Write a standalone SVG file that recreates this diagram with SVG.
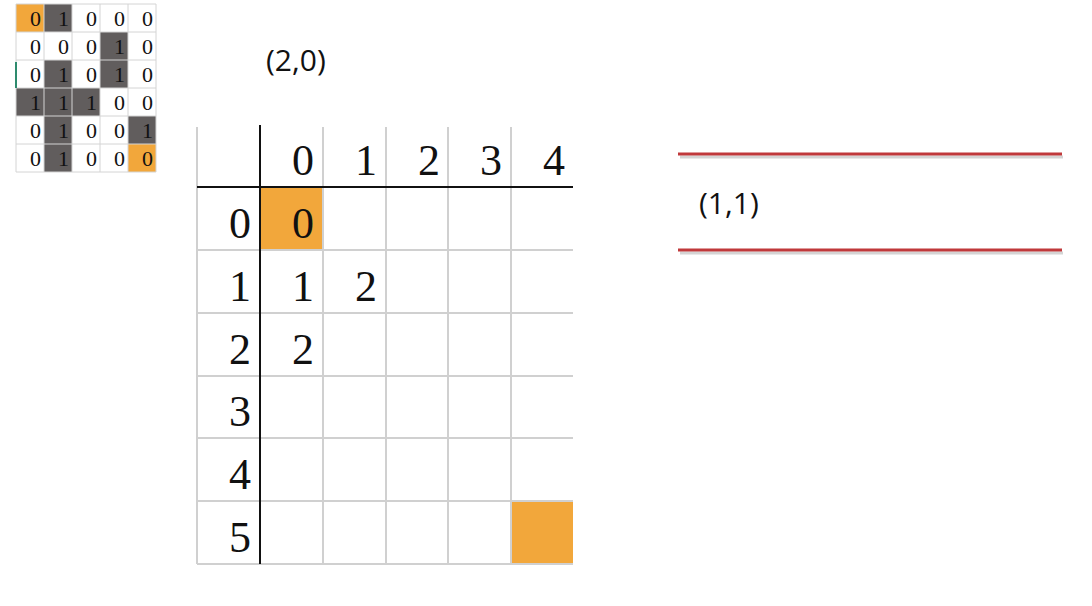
<svg xmlns="http://www.w3.org/2000/svg" width="1092" height="606" viewBox="0 0 1092 606">
<style>
.sg{fill:none;stroke:#d4d4d4;stroke-width:1}
.st{font-family:"Liberation Serif",serif;font-size:22px;fill:#111;text-anchor:end}
.bg{stroke:#d0d0d0;stroke-width:2;fill:none}
.bk{stroke:#111;stroke-width:2;fill:none}
.bt{font-family:"Liberation Serif",serif;font-size:44px;fill:#111;text-anchor:end}
.lab{font-family:"Open Sans","Liberation Sans",sans-serif;font-size:30px;fill:#111}
.red{stroke:#c0393b;stroke-width:3}
.sh{stroke:#b8b8b8;stroke-width:3;opacity:0.6}
</style>
<rect width="1092" height="606" fill="#fff"/>
<g id="small-grid">
<rect x="16" y="4" width="28" height="28" fill="#f2a73b"/>
<rect x="44" y="4" width="28" height="28" fill="#615d5d"/>
<rect x="100" y="32" width="28" height="28" fill="#615d5d"/>
<rect x="44" y="60" width="28" height="28" fill="#615d5d"/>
<rect x="100" y="60" width="28" height="28" fill="#615d5d"/>
<rect x="16" y="88" width="84" height="28" fill="#615d5d"/>
<rect x="44" y="116" width="28" height="56" fill="#615d5d"/>
<rect x="128" y="116" width="28" height="28" fill="#615d5d"/>
<rect x="128" y="144" width="28" height="28" fill="#f2a73b"/>
<path class="sg" d="M16 4V172M44 4V172M72 4V172M100 4V172M128 4V172M156 4V172M16 4H156M16 32H156M16 60H156M16 88H156M16 116H156M16 144H156M16 172H156"/>
<line x1="16" y1="62" x2="16" y2="88" stroke="#2e8b6e" stroke-width="2"/>
<text class="st" x="41" y="26">0</text><text class="st" x="69" y="26">1</text><text class="st" x="97" y="26">0</text><text class="st" x="125" y="26">0</text><text class="st" x="153" y="26">0</text>
<text class="st" x="41" y="54">0</text><text class="st" x="69" y="54">0</text><text class="st" x="97" y="54">0</text><text class="st" x="125" y="54">1</text><text class="st" x="153" y="54">0</text>
<text class="st" x="41" y="82">0</text><text class="st" x="69" y="82">1</text><text class="st" x="97" y="82">0</text><text class="st" x="125" y="82">1</text><text class="st" x="153" y="82">0</text>
<text class="st" x="41" y="110">1</text><text class="st" x="69" y="110">1</text><text class="st" x="97" y="110">1</text><text class="st" x="125" y="110">0</text><text class="st" x="153" y="110">0</text>
<text class="st" x="41" y="138">0</text><text class="st" x="69" y="138">1</text><text class="st" x="97" y="138">0</text><text class="st" x="125" y="138">0</text><text class="st" x="153" y="138">1</text>
<text class="st" x="41" y="166">0</text><text class="st" x="69" y="166">1</text><text class="st" x="97" y="166">0</text><text class="st" x="125" y="166">0</text><text class="st" x="153" y="166">0</text>
</g>
<g id="label-20"><text class="lab" x="266" y="71">(2,0)</text></g>
<g id="big-grid">
<rect x="260" y="187" width="63" height="63" fill="#f2a73b"/>
<rect x="511" y="501" width="62" height="63" fill="#f2a73b"/>
<path class="bg" d="M197 127V564M323 127V564M386 127V564M448 127V564M511 127V564M197 250H573M197 313H573M197 376H573M197 438H573M197 501H573M197 564H573"/>
<path class="bk" d="M260 125V564M197 187H573"/>
<text class="bt" x="314" y="175">0</text><text class="bt" x="377" y="175">1</text><text class="bt" x="440" y="175">2</text><text class="bt" x="502" y="175">3</text><text class="bt" x="565" y="175">4</text>
<text class="bt" x="251" y="238">0</text><text class="bt" x="251" y="301">1</text><text class="bt" x="251" y="364">2</text><text class="bt" x="251" y="426">3</text><text class="bt" x="251" y="489">4</text><text class="bt" x="251" y="552">5</text>
<text class="bt" x="314" y="238">0</text>
<text class="bt" x="314" y="301">1</text><text class="bt" x="377" y="301">2</text>
<text class="bt" x="314" y="364">2</text>
</g>
<g id="stack">
<line class="sh" x1="680" y1="157" x2="1063" y2="157"/>
<line class="red" x1="678" y1="154" x2="1062" y2="154"/>
<line class="sh" x1="680" y1="253" x2="1063" y2="253"/>
<line class="red" x1="678" y1="250" x2="1062" y2="250"/>
<text class="lab" x="699" y="214">(1,1)</text>
</g>
</svg>
